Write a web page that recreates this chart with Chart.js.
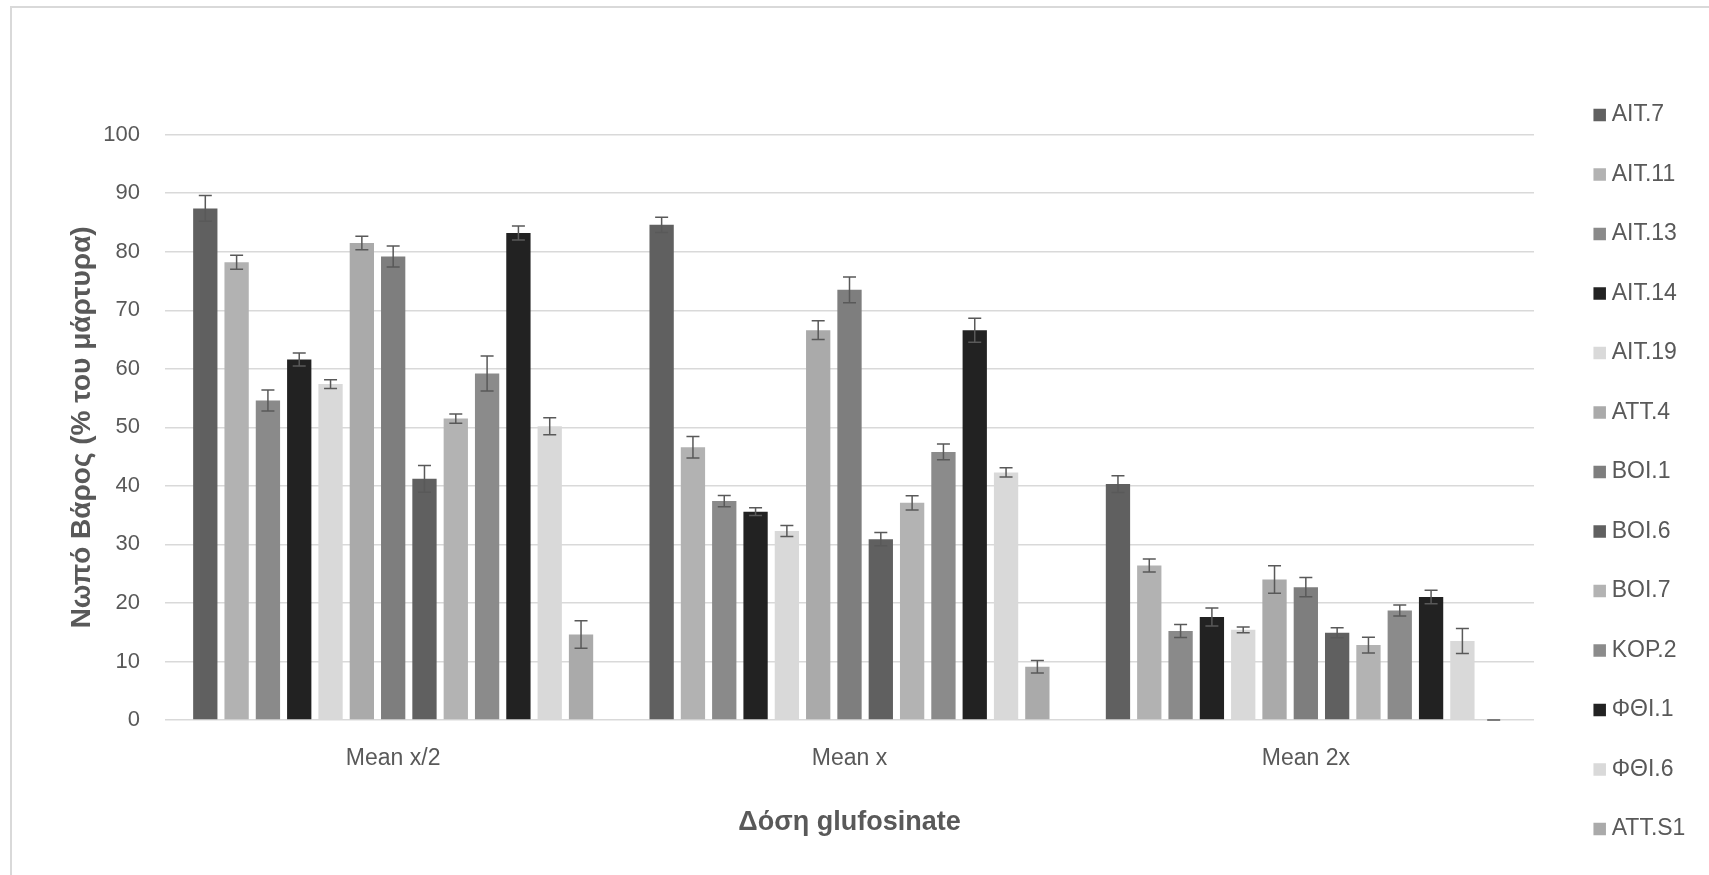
<!DOCTYPE html>
<html>
<head>
<meta charset="utf-8">
<title>Νωπό Βάρος</title>
<script src="https://cdn.jsdelivr.net/npm/chart.js@4"></script>
<style>
  html, body { margin: 0; padding: 0; background: #fff; }
  #wrap { position: relative; width: 1709px; height: 875px; overflow: hidden; }
  #frame { position: absolute; left: 10px; top: 6px; width: 1760px; height: 920px;
           border-left: 2px solid #d9d9d9; border-top: 2px solid #d9d9d9; }
  canvas { position: absolute; left: 0; top: 0; }
</style>
</head>
<body>
<div id="wrap">
  <div id="frame"></div>
  <canvas id="chart" width="1709" height="875"></canvas>
</div>
<script>
// δόσεις (κατηγορίες)
const doses = ["Mean x/2", "Mean x", "Mean 2x"];

// πληθυσμοί (σειρές)
const populations = ["AIT.7", "AIT.11", "AIT.13", "AIT.14", "AIT.19", "ATT.4", "BOI.1",
                     "BOI.6", "BOI.7", "KOP.2", "ΦΘΙ.1", "ΦΘΙ.6", "ATT.S1"];

const colors = ["#606060", "#b2b2b2", "#8a8a8a", "#222222", "#d9d9d9", "#aaaaaa", "#7e7e7e",
                "#606060", "#b3b3b3", "#8b8b8b", "#222222", "#d9d9d9", "#aaaaaa"];

// μέσος όρος ανά δόση, με τη σειρά των πληθυσμών
const meanHalf = [87.4, 78.2, 54.6, 61.6, 57.4, 81.5, 79.2, 41.2, 51.5, 59.2, 83.2, 50.2, 14.6];
const meanX    = [84.6, 46.6, 37.4, 35.6, 32.3, 66.6, 73.5, 30.9, 37.1, 45.8, 66.6, 42.3, 9.1];
const mean2x   = [40.3, 26.4, 15.2, 17.6, 15.4, 24.0, 22.7, 14.9, 12.8, 18.7, 21.0, 13.5, 0];

// τυπικό σφάλμα
const errHalf = [2.2, 1.2, 1.8, 1.1, 0.75, 1.15, 1.8, 2.3, 0.8, 3.0, 1.2, 1.45, 2.35];
const errX    = [1.3, 1.85, 0.95, 0.65, 0.95, 1.6, 2.2, 1.15, 1.2, 1.35, 2.05, 0.8, 1.05];
const err2x   = [1.45, 1.1, 1.1, 1.55, 0.5, 2.35, 1.65, 0.85, 1.35, 0.95, 1.15, 2.15, 0];

const yTicks = { min: 0, max: 100, step: 10 };

const textColor = "#595959";
Chart.defaults.font.family = "'Liberation Sans', Arial, sans-serif";

const datasets = populations.map((name, i) => ({
  label: name,
  data: [meanHalf[i], meanX[i], mean2x[i]],
  errors: [errHalf[i], errX[i], err2x[i]],
  backgroundColor: colors[i],
  borderWidth: 0,
  categoryPercentage: 0.892,
  barPercentage: 0.776
}));

// μπάρες σφάλματος
const errorBars = {
  id: "errorBars",
  afterDatasetsDraw(chart) {
    const ctx = chart.ctx;
    const yScale = chart.scales.y;
    ctx.save();
    ctx.strokeStyle = "#595959";
    ctx.lineWidth = 1.5;
    chart.data.datasets.forEach((ds, i) => {
      const meta = chart.getDatasetMeta(i);
      meta.data.forEach((bar, j) => {
        const v = ds.data[j];
        const e = ds.errors[j];
        const top = yScale.getPixelForValue(v + e);
        const bot = yScale.getPixelForValue(Math.max(v - e, 0));
        const w = 6.5;
        ctx.beginPath();
        ctx.moveTo(bar.x, top); ctx.lineTo(bar.x, bot);
        ctx.moveTo(bar.x - w, top); ctx.lineTo(bar.x + w, top);
        ctx.moveTo(bar.x - w, bot); ctx.lineTo(bar.x + w, bot);
        ctx.stroke();
      });
    });
    ctx.restore();
  }
};

new Chart(document.getElementById("chart"), {
  type: "bar",
  data: { labels: doses, datasets: datasets },
  plugins: [errorBars],
  options: {
    responsive: false,
    animation: false,
    devicePixelRatio: 1,
    layout: { padding: { left: 0, right: 16.3, top: 0, bottom: -2 } },
    plugins: {
      tooltip: { enabled: false },
      title: { display: true, text: "", font: { size: 12 }, padding: { top: 120.3, bottom: 0 } },
      legend: {
        position: "right",
        align: "end",
        maxWidth: 130,
        labels: {
          usePointStyle: true,
          pointStyle: "rect",
          boxWidth: 1,
          boxHeight: 12.5,
          padding: 36.5,
          color: textColor,
          font: { size: 23 }
        }
      }
    },
    scales: {
      x: {
        grid: { display: false, drawTicks: false },
        border: { display: false },
        ticks: { color: textColor, font: { size: 23 }, padding: 25 },
        title: {
          display: true, text: "Δόση glufosinate", color: textColor,
          font: { size: 27, weight: "bold" }, padding: { top: 4, bottom: 38 }
        },
        afterFit(s) { s.height = 157; }
      },
      y: {
        min: yTicks.min,
        max: yTicks.max,
        ticks: { stepSize: yTicks.step, color: textColor, font: { size: 22 }, padding: 25 },
        grid: { color: "#d9d9d9", lineWidth: 1.5, drawTicks: false },
        border: { display: false },
        title: {
          display: true, text: "Νωπό Βάρος (% του μάρτυρα)", color: textColor,
          font: { size: 28, weight: "bold" }, padding: { top: 65, bottom: 4 }
        },
        afterFit(s) { s.width = 165; }
      },
      gap: {
        type: "linear",
        position: "right",
        ticks: { display: false },
        grid: { display: false },
        border: { display: false },
        afterFit(s) { s.width = 28.7; }
      }
    }
  }
});
</script>
</body>
</html>
